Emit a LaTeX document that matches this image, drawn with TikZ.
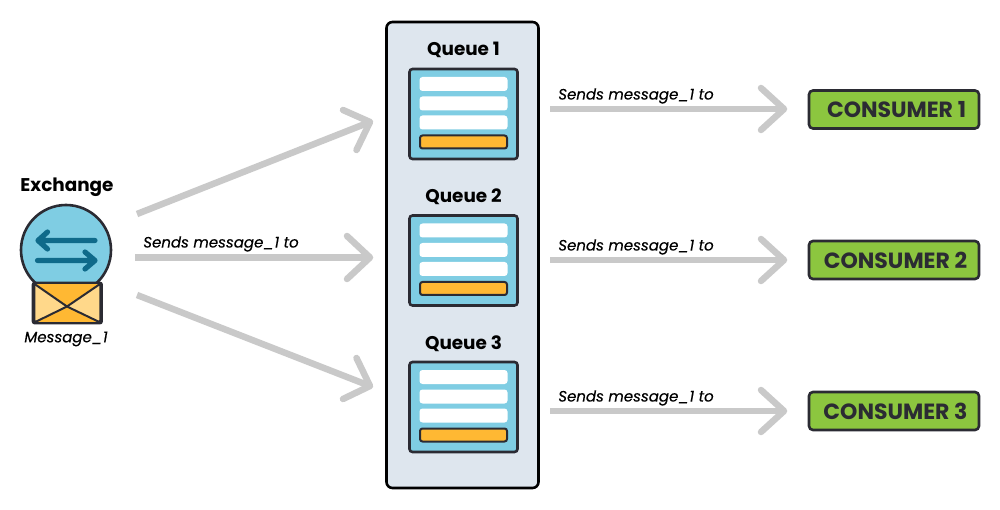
\documentclass[tikz,border=0pt]{standalone}
\usepackage{fontspec}
\setmainfont{Poppins}[ItalicFeatures={FakeBold=0.25}]
\usetikzlibrary{arrows.meta}
\definecolor{ink}{HTML}{2B2B33}
\definecolor{skyb}{HTML}{7FCDE3}
\definecolor{teal2}{HTML}{0F6A8A}
\definecolor{amber}{HTML}{FFB833}
\definecolor{paleamber}{HTML}{FFD88A}
\definecolor{panel}{HTML}{DEE6EE}
\definecolor{leaf}{HTML}{8CC63F}
\definecolor{shaft}{HTML}{C9C9C9}
\tikzset{
 x=1pt,y=-1pt,
 flow/.style={draw=shaft,line width=6.5pt},
 barb/.style={draw=shaft,line width=6.5pt,line cap=round,line join=round},
 title/.style={font=\bfseries\fontsize{18.4}{20}\selectfont,text=black,inner sep=0pt},
 says/.style={font=\itshape\fontsize{15}{18}\selectfont,text=black,inner sep=0pt},
 consumer/.style={draw=ink,line width=2.6pt,fill=leaf,rounded corners=4pt,minimum width=170pt,minimum height=38pt,inner sep=0pt,font=\bfseries\fontsize{22}{24}\selectfont,text=ink},
 qbox/.style={draw=ink,line width=2.6pt,fill=skyb,rounded corners=3pt,minimum width=108pt,minimum height=90pt,inner sep=0pt},
 slot/.style={fill=white,rounded corners=3pt,minimum width=88pt,minimum height=14pt,inner sep=0pt},
 ambr/.style={draw=ink,line width=2pt,fill=amber,rounded corners=2.5pt,minimum width=87pt,minimum height=13pt,inner sep=0pt},
 arr/.style={draw=teal2,line width=5.2pt,line cap=round,line join=round},
}
\newcommand{\queuebox}[3]{%
 \node[title] (qt#1) at (463.5,#2) {Queue #1};
 \node[qbox] (q#1) at (463.5,#3) {};
 \node[slot] (qa#1) at (463.5,#3-30) {};
 \node[slot] (qb#1) at (463.5,#3-10.5) {};
 \node[slot] (qc#1) at (463.5,#3+8.5) {};
 \node[ambr] (qd#1) at (463.5,#3+28) {};
}
\begin{document}
\begin{tikzpicture}
\useasboundingbox (0,0) rectangle (1000,510);
\fill[white] (0,0) rectangle (1000,510);
% panel
\node[draw=black,line width=2.6pt,fill=panel,rounded corners=6pt,minimum width=152pt,minimum height=466pt,inner sep=0pt] (panel) at (462.5,255) {};
\queuebox{1}{49.5}{114}
\queuebox{2}{196.5}{260.5}
\queuebox{3}{343.5}{407}
% consumers
\node[consumer] (c1) at (894,109.5) {\hspace*{5pt}CONSUMER 1};
\node[consumer] (c2) at (894,260) {\hspace*{3pt}CONSUMER 2};
\node[consumer] (c3) at (894,411) {\hspace*{3pt}CONSUMER 3};
% exchange
\node[title] (ext) at (67,187.5) {Exchange};
\node[draw=ink,line width=2.6pt,fill=skyb,circle,minimum size=90pt,inner sep=0pt] (ex) at (66,250) {};
\draw[arr] (95,240.5) -- (38,240.5) (47.5,232) -- (38,240.5) -- (47.5,249);
\draw[arr] (37.5,260.5) -- (95,260.5) (85,252) -- (95,260.5) -- (85,269);
% envelope
\node[draw=ink,line width=2.4pt,fill=paleamber,rounded corners=2pt,minimum width=66.5pt,minimum height=38pt,inner sep=0pt] (env) at (67.3,303) {};
\fill[amber] (env.north west) -- (67,306.5) -- (env.north east) -- cycle;
\fill[amber] (env.south west) -- (67,306.5) -- (env.south east) -- cycle;
\draw[ink,line width=2pt,line join=round] (env.north west) -- (67,306.5) -- (env.north east);
\draw[ink,line width=2pt,line join=round] (env.south west) -- (67,306.5) -- (env.south east);
\draw[draw=ink,line width=2.4pt,rounded corners=2pt] (env.north west) rectangle (env.south east);
\node[says] (msg) at (66,339) {Message\_1};
% coordinates
\coordinate (a1s) at (137,214); \coordinate (a1e) at (370,122);
\coordinate (a2s) at (135,257.5); \coordinate (a2e) at (370,257.5);
\coordinate (a3s) at (137,295); \coordinate (a3e) at (370,386);
\coordinate (b1s) at (550,109); \coordinate (b1e) at (784,109);
\coordinate (b2s) at (550,260); \coordinate (b2e) at (784,260);
\coordinate (b3s) at (550,411); \coordinate (b3e) at (784,411);
\foreach \s/\e in {a1s/a1e,a2s/a2e,a3s/a3e,b1s/b1e,b2s/b2e,b3s/b3e}{
 \draw[flow] (\s) -- (\e);
}
\draw[barb] (343,110) -- (a1e) -- (356.5,150);
\draw[barb] (347,236) -- (a2e) -- (347,279);
\draw[barb] (356.5,358) -- (a3e) -- (343,399);
\foreach \e in {b1e,b2e,b3e}{
 \draw[barb] ([shift={(-23,-21)}]\e) -- (\e) -- ([shift={(-23,21)}]\e);
}
\node[says] (l0) at (221,244) {Sends message\_1 to};
\node[says] (l1) at (636,96) {Sends message\_1 to};
\node[says] (l2) at (636,247) {Sends message\_1 to};
\node[says] (l3) at (636,398) {Sends message\_1 to};
\end{tikzpicture}
\end{document}
